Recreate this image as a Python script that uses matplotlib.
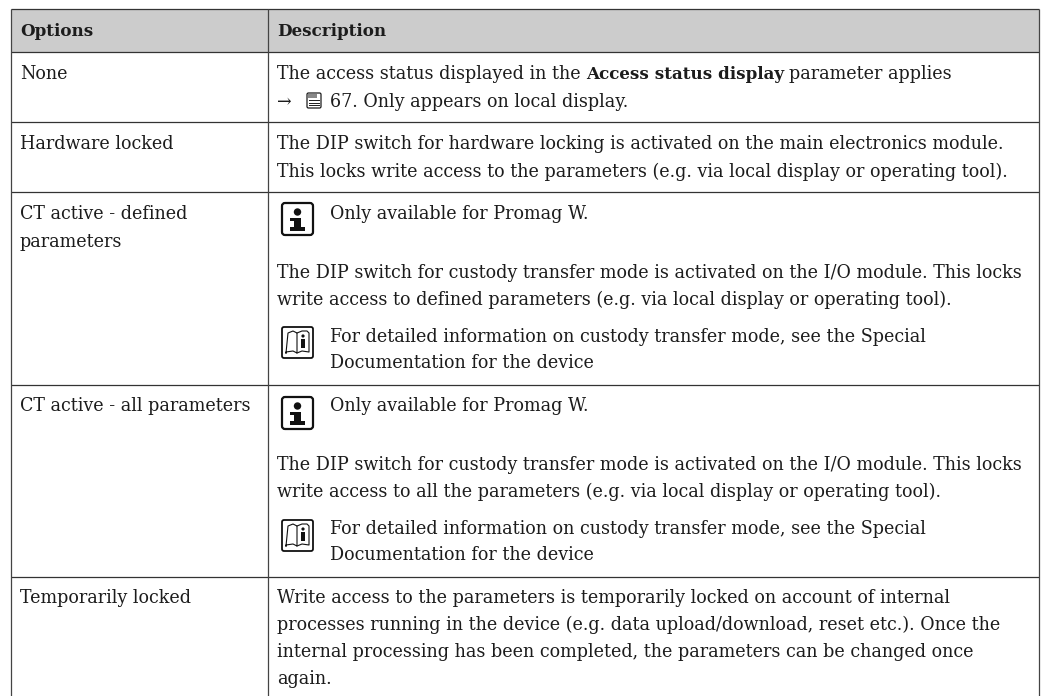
import matplotlib
matplotlib.use("Agg")
import matplotlib.pyplot as plt
from matplotlib.patches import Rectangle, FancyBboxPatch, Circle

W, H = 1045, 696
FONT = "DejaVu Serif"
FS = 12.65
FS_BOLD = 12.05
INK = "#1c1c1c"

headers = ["Options", "Description"]
options = [
    (79, "None"),
    (149, "Hardware locked"),
    (219, "CT active - defined"),
    (247, "parameters"),
    (411, "CT active - all parameters"),
    (603, "Temporarily locked"),
]
desc_lines = [
    (277, 149, "The DIP switch for hardware locking is activated on the main electronics module."),
    (277, 177, "This locks write access to the parameters (e.g. via local display or operating tool)."),
    (330, 219, "Only available for Promag W."),
    (277, 278, "The DIP switch for custody transfer mode is activated on the I/O module. This locks"),
    (277, 305, "write access to defined parameters (e.g. via local display or operating tool)."),
    (330, 342, "For detailed information on custody transfer mode, see the Special"),
    (330, 368, "Documentation for the device"),
    (330, 411, "Only available for Promag W."),
    (277, 470, "The DIP switch for custody transfer mode is activated on the I/O module. This locks"),
    (277, 497, "write access to all the parameters (e.g. via local display or operating tool)."),
    (330, 534, "For detailed information on custody transfer mode, see the Special"),
    (330, 560, "Documentation for the device"),
    (277, 603, "Write access to the parameters is temporarily locked on account of internal"),
    (277, 630, "processes running in the device (e.g. data upload/download, reset etc.). Once the"),
    (277, 657, "internal processing has been completed, the parameters can be changed once"),
    (277, 684, "again."),
]
row_lines = [52, 122, 192, 385, 577]
info_icons = [(281, 202), (281, 396)]
book_icons = [(281, 326), (281, 519)]

fig = plt.figure(figsize=(W / 100, H / 100), dpi=100)
ax = fig.add_axes([0, 0, 1, 1])
ax.set_xlim(0, W)
ax.set_ylim(H, 0)
ax.axis("off")

L, C, R, T, B = 11, 268, 1039, 9, 696
ax.add_patch(Rectangle((L, T), R - L, 43, fc="#cccccc", ec="none"))
for y in [T] + row_lines:
    ax.plot([L, R], [y, y], color="#333333", lw=0.9, solid_capstyle="butt")
for x in (L, C, R):
    ax.plot([x, x], [T, B], color="#444444", lw=0.9, solid_capstyle="butt")


def t(x, y, s, size=FS, **kw):
    return ax.text(x, y, s, family=FONT, fontsize=size, color=INK, va="baseline", ha="left", **kw)


t(20, 36, headers[0], size=FS_BOLD, fontweight="bold")
t(277, 36, headers[1], size=FS_BOLD, fontweight="bold")
for y, s in options:
    t(20, y, s)
for x, y, s in desc_lines:
    t(x, y, s)

r = fig.canvas.get_renderer()
a = t(277, 79, "The access status displayed in the")
x1 = ax.transData.inverted().transform(a.get_window_extent(r))[1][0]
b = t(x1 + 5, 79, "Access status display", size=FS_BOLD, fontweight="bold")
x2 = ax.transData.inverted().transform(b.get_window_extent(r))[1][0]
t(x2 + 5, 79, "parameter applies")
t(277, 107, "\u2192")
t(330, 107, "67. Only appears on local display.")

ax.add_patch(FancyBboxPatch((307, 93), 14, 15, boxstyle="round,pad=0,rounding_size=1.5",
                            fc="white", ec=INK, lw=0.9))
ax.add_patch(Rectangle((308, 94), 9, 4, fc="#888888", ec="none"))
for yy in (100, 102.5, 105):
    ax.plot([309, 319], [yy, yy], color=INK, lw=0.7)

for x, y in info_icons:
    ax.add_patch(FancyBboxPatch((x + 1, y + 1), 31, 32, boxstyle="round,pad=0,rounding_size=3",
                                fc="white", ec="#111111", lw=1.6))
    ax.add_patch(Circle((x + 16.5, y + 10), 3.7, fc="#111111", ec="none"))
    ax.add_patch(Rectangle((x + 13, y + 16), 7, 11, fc="#111111", ec="none"))
    ax.add_patch(Rectangle((x + 9, y + 16), 5, 3, fc="#111111", ec="none"))
    ax.add_patch(Rectangle((x + 9, y + 25), 15, 4, fc="#111111", ec="none"))

for x, y in book_icons:
    ax.add_patch(FancyBboxPatch((x + 1, y + 1), 31, 31, boxstyle="round,pad=0,rounding_size=2",
                                fc="white", ec="#111111", lw=1.3))
    ax.plot([x + 5, x + 7, x + 12, x + 16, x + 16, x + 12, x + 5, x + 5],
            [y + 27, y + 7, y + 5, y + 7, y + 27, y + 25, y + 26, y + 27], color="#111111", lw=0.8)
    ax.plot([x + 16, x + 21, x + 26, x + 28, x + 28, x + 21, x + 16],
            [y + 7, y + 5, y + 5, y + 7, y + 26, y + 25, y + 27], color="#111111", lw=0.8)
    ax.add_patch(Circle((x + 22, y + 10), 1.6, fc="#111111", ec="none"))
    ax.add_patch(Rectangle((x + 20, y + 13), 4, 9, fc="#111111", ec="none"))

fig.savefig("out.png", dpi=100)
